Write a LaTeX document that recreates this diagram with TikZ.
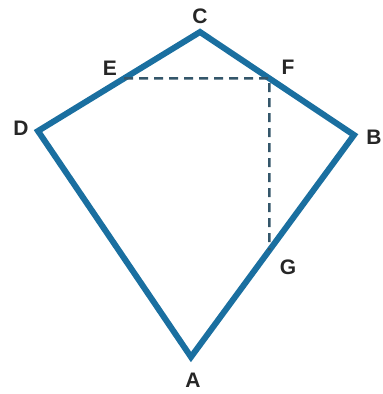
\documentclass[tikz,border=0pt]{standalone}
\usepackage{fontspec}
\setmainfont{Liberation Sans}
\usetikzlibrary{calc}
\definecolor{kiteblue}{HTML}{1A6FA0}
\definecolor{dashgray}{HTML}{34566A}
\tikzset{
  side/.style={draw=kiteblue, line width=6pt, line join=miter},
  guide/.style={draw=dashgray, line width=2.6pt, dash pattern=on 9pt off 6pt},
  vlabel/.style={font=\fontsize{21}{21}\selectfont\bfseries, text=black!85, inner sep=0pt}
}
\begin{document}
\begin{tikzpicture}[x=1pt,y=-1pt]
\useasboundingbox (0,0) rectangle (383,394);
\coordinate (C) at (200,32);
\coordinate (B) at (354,135);
\coordinate (A) at (191,357);
\coordinate (D) at (38,131);
\coordinate (F) at ($(C)!0.45!(B)$);
\coordinate (Fw) at ($(F)+(-10,0)$);
\coordinate (Fd) at ($(F)+(0,10)$);
\coordinate (E) at (intersection of D--C and F--Fw);
\coordinate (G) at (intersection of A--B and F--Fd);

\draw[side] (A) -- (B) -- (C) -- (D) -- cycle;
\draw[guide] (E) -- (F) -- (G);

\node[vlabel] (lC) at (200,16) {C};
\node[vlabel] (lE) at (110,68) {E};
\node[vlabel] (lF) at (288,67) {F};
\node[vlabel] (lD) at (21,128) {D};
\node[vlabel] (lB) at (374,137) {B};
\node[vlabel] (lG) at (288,267) {G};
\node[vlabel] (lA) at (193,380) {A};
\end{tikzpicture}
\end{document}
